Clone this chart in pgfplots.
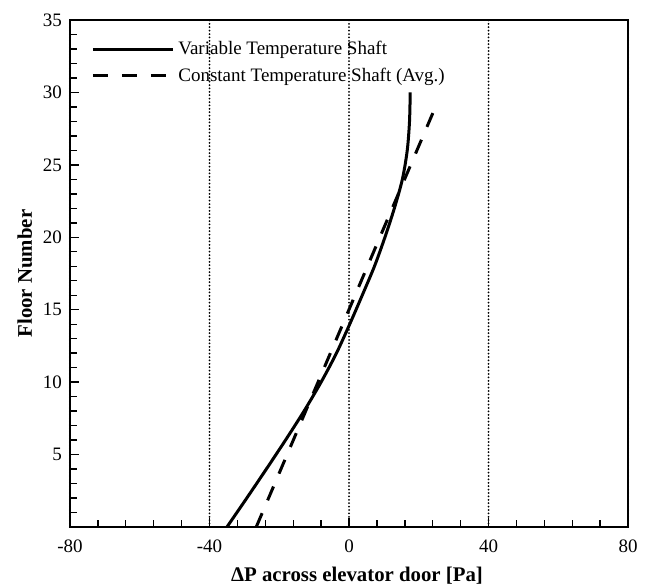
\documentclass[border=0pt]{standalone}
\usepackage{pgfplots}
\pgfplotsset{compat=1.18}
\usepackage{fontspec}
\setmainfont{Liberation Serif}
\begin{document}
\begin{tikzpicture}
\begin{axis}[
  name=main,
  scale only axis,
  width=279pt, height=253.5pt,
  xmin=-80, xmax=80, ymin=0, ymax=35,
  xtick={-80,-40,0,40,80},
  ytick={5,10,15,20,25,30,35},
  minor x tick num=4,
  minor ytick={1,2,3,4,6,7,8,9,11,12,13,14,16,17,18,19,21,22,23,24,26,27,28,29,31,32,33,34},
  tick pos=left,
  tick align=inside,
  major tick length=4.5pt,
  minor tick length=3.5pt,
  every tick/.style={black, line width=0.7pt},
  axis line style={line width=0.9pt},
  xmajorgrids,
  major grid style={black, line width=1pt, line cap=round, dash pattern=on 0pt off 1.7pt},
  /pgf/number format/assume math mode=true,
  ticklabel style={font=\fontsize{9.5}{11}\selectfont},
  xticklabel style={yshift=-3pt},
  yticklabel style={xshift=-0.5pt},
  xlabel={\textbf{ΔP across elevator door [Pa]}},
  ylabel={\textbf{Floor Number}},
  xlabel style={xshift=4pt},
  ylabel style={yshift=-1.5pt},
  label style={font=\fontsize{10.4}{12}\selectfont},
  legend style={draw=none, fill=none, at={(0,1)}, anchor=north west, xshift=7.5pt, yshift=-6.5pt,
    font=\fontsize{9.5}{11}\selectfont, row sep=1pt, cells={anchor=west}},
  legend image code/.code={\draw[#1] (0pt,0pt) -- (40pt,0pt);},
]
\addplot[black, line width=1.5pt, smooth] coordinates {
  (-35.0,0) (-29.3,2) (-23.7,4) (-18.2,6) (-12.9,8) (-8.0,10) (-3.6,12)
  (0.2,14) (3.8,16) (7.3,18) (10.3,20) (13.0,22) (15.3,24) (16.7,26)
  (17.35,28) (17.55,30)
};
\addlegendentry{Variable Temperature Shaft}
\addplot[black, line width=1.5pt, dash pattern=on 7.5pt off 7pt] coordinates {
  (-26.6,0) (25.5,29.4)
};
\addlegendentry{Constant Temperature Shaft (Avg.)}
\end{axis}
\pgfresetboundingbox
\useasboundingbox (main.south west) ++(-35pt,-29pt) rectangle ++(322.5pt,292.5pt);
\end{tikzpicture}
\end{document}
